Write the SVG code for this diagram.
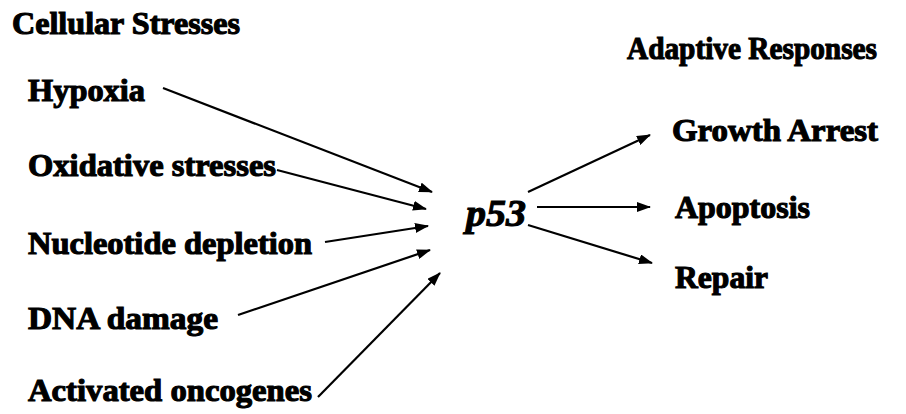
<svg xmlns="http://www.w3.org/2000/svg" width="906" height="414" viewBox="0 0 906 414">
  <style>
    text { font-family: 'Liberation Serif', 'Times New Roman', 'DejaVu Serif', serif; font-weight: 700; fill: #000; stroke: #000; }
    .lbl { font-size: 31px; stroke-width: 1.1px; }
    .hub { font-size: 38px; font-style: italic; stroke-width: 1.1px; }
    .edge { stroke: #000; stroke-width: 2.2; fill: none; marker-end: url(#head); }
  </style>
  <defs>
    <marker id="head" viewBox="0 0 14 10" refX="13" refY="5" markerWidth="14" markerHeight="10" markerUnits="userSpaceOnUse" orient="auto">
      <path d="M0,0 L14,5 L0,10 Z" fill="#000"/>
    </marker>
  </defs>
  <rect width="906" height="414" fill="#fff"/>

  <g id="title-stresses"><text class="lbl" x="12" y="34" textLength="228" lengthAdjust="spacingAndGlyphs">Cellular Stresses</text></g>
  <g id="title-responses"><text class="lbl" x="627" y="59" textLength="250" lengthAdjust="spacingAndGlyphs">Adaptive Responses</text></g>

  <g id="hypoxia"><text class="lbl" x="28" y="101" textLength="117" lengthAdjust="spacingAndGlyphs">Hypoxia</text></g>
  <g id="oxidative"><text class="lbl" x="28" y="176" textLength="248" lengthAdjust="spacingAndGlyphs">Oxidative stresses</text></g>
  <g id="nucleotide"><text class="lbl" x="28" y="254" textLength="284" lengthAdjust="spacingAndGlyphs">Nucleotide depletion</text></g>
  <g id="dna"><text class="lbl" x="28" y="329" textLength="190" lengthAdjust="spacingAndGlyphs">DNA damage</text></g>
  <g id="oncogenes"><text class="lbl" x="28" y="401" textLength="284" lengthAdjust="spacingAndGlyphs">Activated oncogenes</text></g>

  <g id="p53"><text class="hub" x="466" y="226" textLength="60" lengthAdjust="spacingAndGlyphs">p53</text></g>

  <g id="growth"><text class="lbl" x="672" y="141" textLength="206" lengthAdjust="spacingAndGlyphs">Growth Arrest</text></g>
  <g id="apoptosis"><text class="lbl" x="675" y="218" textLength="135" lengthAdjust="spacingAndGlyphs">Apoptosis</text></g>
  <g id="repair"><text class="lbl" x="675" y="288" textLength="93" lengthAdjust="spacingAndGlyphs">Repair</text></g>

  <g id="connectors">
    <line class="edge" x1="163" y1="88" x2="432" y2="192"/>
    <line class="edge" x1="277" y1="170" x2="426" y2="209"/>
    <line class="edge" x1="325" y1="242" x2="428" y2="226"/>
    <line class="edge" x1="238" y1="315" x2="430" y2="250"/>
    <line class="edge" x1="318" y1="397" x2="440" y2="273"/>
    <line class="edge" x1="528" y1="192" x2="650" y2="135"/>
    <line class="edge" x1="537" y1="207" x2="650" y2="207"/>
    <line class="edge" x1="528" y1="225" x2="652" y2="263"/>
  </g>
</svg>
